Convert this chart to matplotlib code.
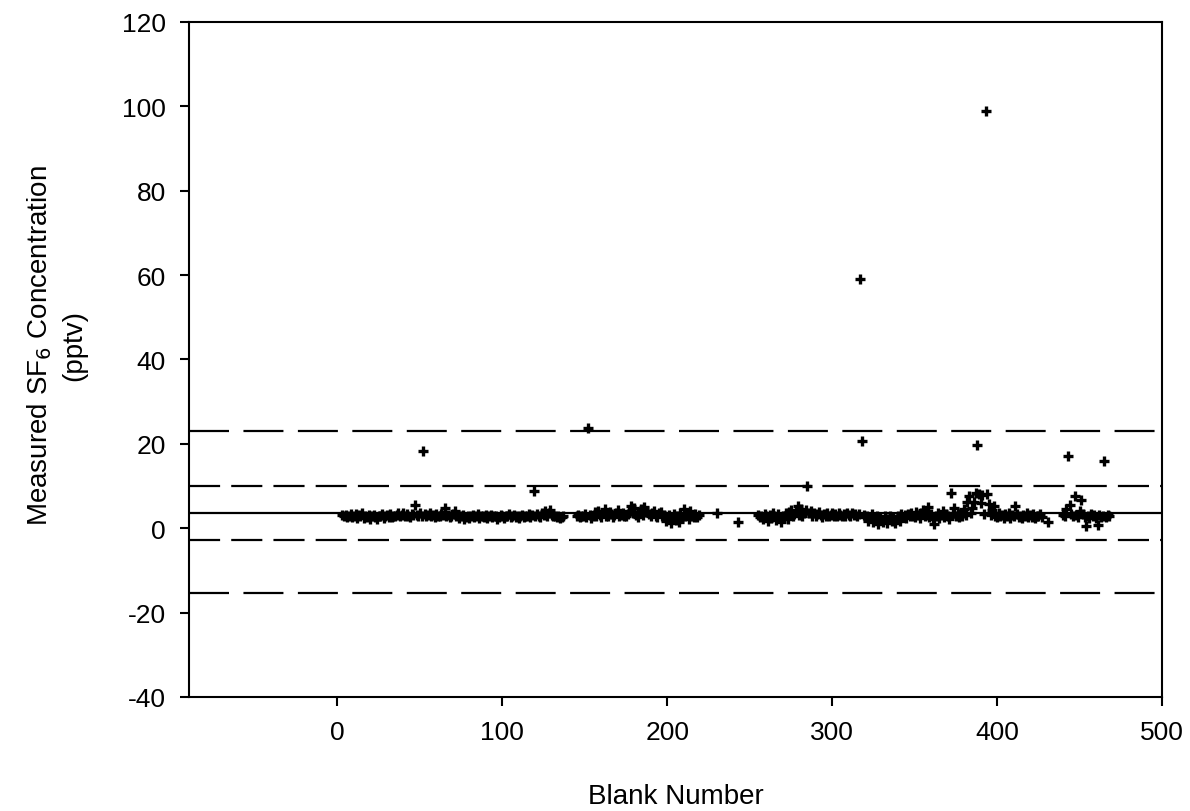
import numpy as np
import matplotlib
matplotlib.use("Agg")
import matplotlib.pyplot as plt

plt.rcParams['font.family'] = ['Liberation Sans', 'DejaVu Sans']
plt.rcParams['axes.unicode_minus'] = False

# blank numbers run consecutively inside each segment; start of each segment
seg_a_start = 3
seg_a = [3.1, 2.8, 3.2, 2.6, 3.0, 3.4, 2.7, 2.9, 3.3, 2.5, 3.1, 2.8, 3.6, 2.4, 3.0,
         2.7, 3.2, 2.2, 2.9, 3.1, 2.6, 2.3, 3.0, 2.8, 3.3, 2.5, 2.9, 3.1, 2.7, 3.4,
         2.6, 3.0, 2.8, 3.2, 3.6, 2.9, 3.1, 3.5, 2.8, 3.3, 3.0, 2.7, 3.4, 3.1, 5.5,
         3.2, 2.9, 3.6, 3.0, 18.3, 3.3, 2.8, 3.1, 3.5, 2.9, 3.2, 2.7, 3.4, 3.0, 2.8,
         3.3, 3.1, 4.7, 2.9, 3.2, 2.6, 3.0, 3.4, 4.1, 2.8, 3.1, 2.5, 2.9, 3.2, 2.3,
         2.7, 3.0, 2.4, 2.8, 3.1, 2.6, 2.9, 3.3, 2.5, 2.8, 3.0, 2.7, 3.2, 2.4, 2.9,
         3.1, 2.6, 2.8, 3.0, 2.3, 2.7, 3.2, 2.9, 2.5, 3.0, 2.8, 3.3, 2.6, 2.9, 3.1,
         2.7, 3.0, 2.5, 2.8, 3.2, 2.6, 3.0, 2.9, 3.4, 2.7, 3.1, 8.8, 2.8, 3.3, 3.0,
         2.6, 3.5, 3.1, 4.2, 2.9, 3.6, 4.4, 3.2, 2.8, 3.0, 2.6, 2.9, 2.4, 2.7, 3.0]

seg_b_start = 145
seg_b = [2.8, 3.1, 2.6, 3.0, 2.9, 3.4, 2.7, 23.7, 3.2, 2.5, 3.0, 3.8, 2.9, 4.2, 3.1,
         2.7, 3.5, 4.6, 3.0, 2.8, 3.9, 3.3, 2.6, 3.1, 3.7, 4.3, 2.9, 3.2, 3.6, 3.0,
         2.8, 3.4, 4.0, 5.2, 3.6, 4.8, 3.1, 2.7, 3.9, 4.5, 3.2, 5.0, 3.8, 4.2, 3.3,
         2.9, 3.6, 4.1, 3.0, 2.6, 3.5, 3.8, 2.8, 3.2, 1.6, 2.4, 3.1, 1.2, 2.7, 3.4,
         2.0, 3.0, 1.5, 3.6, 2.5, 4.6, 2.9, 3.3, 2.2, 4.1, 3.0, 2.7, 3.4, 2.6, 3.1]

seg_c_start = 255
seg_c = [3.2, 2.6, 3.0, 2.1, 3.4, 2.8, 1.6, 3.1, 2.4, 3.6, 2.9, 1.9, 3.3, 2.7, 1.5,
         3.0, 2.5, 3.5, 2.2, 3.8, 4.4, 2.9, 3.4, 3.9, 5.2, 3.1, 4.6, 2.8, 3.7, 4.3,
         10.0, 3.5, 4.1, 3.0, 3.6, 2.9, 3.3, 3.8, 3.1, 2.7, 3.4, 3.0, 3.6, 2.8, 3.2,
         3.5, 2.9, 3.3, 3.0, 3.7, 3.1, 2.8, 3.4, 3.0, 3.6, 3.2, 2.9, 3.5, 3.1, 3.3,
         3.0, 3.4, 59.0, 20.7, 3.2, 2.6, 3.0, 1.8, 2.5, 3.3, 1.4, 2.2, 2.9, 1.1, 2.6,
         2.0, 1.5, 2.8, 1.2, 2.3, 3.0, 1.7, 2.5, 1.3, 2.1, 2.9, 1.6, 3.4, 2.7, 3.1,
         2.5, 3.3, 2.8, 3.6, 3.0, 2.6, 3.9, 3.2, 2.4, 3.5, 4.3, 2.9, 3.2, 5.0, 2.7,
         3.4, 2.3, 1.0, 2.8, 3.6, 2.5, 3.1, 4.0, 2.6, 3.3, 2.9, 2.2, 8.3, 3.5, 4.7,
         2.8, 3.3, 2.6, 3.7, 3.0, 4.5, 3.2, 6.3, 7.6, 3.6, 4.8, 6.2, 8.4, 19.7, 8.0,
         5.9, 7.9, 3.4, 99.0, 8.2, 5.7, 3.1, 4.4, 5.3, 3.0, 2.6, 3.5, 2.8, 3.2, 2.4,
         3.3, 2.9, 3.6, 2.5, 3.1, 2.8, 5.3, 3.4, 2.7, 3.0, 2.4, 3.2, 2.9, 3.5, 2.6,
         3.1, 2.7, 3.3, 2.5, 3.0, 2.8, 3.4, 2.6]

seg_d_start = 440
seg_d = [3.2, 2.8, 4.6, 17.1, 5.6, 3.4, 2.9, 7.6, 3.1, 2.6, 4.1, 6.6, 3.3, 2.7, 0.6,
         3.0, 2.5, 3.4, 2.8, 3.1, 2.4, 0.8, 3.2, 2.7, 3.0, 16.0, 2.6, 3.1, 2.9]

# lone blanks between the runs
lone_x = [230, 243, 431]
lone_y = [3.6, 1.4, 1.4]

mean_level = 3.7
inner_limits = [10.0, -2.8]   # mean +/- 1 sd
outer_limits = [23.0, -15.4]  # mean +/- 3 sd

xs, ys = [], []
for start, vals in [(seg_a_start, seg_a), (seg_b_start, seg_b),
                    (seg_c_start, seg_c), (seg_d_start, seg_d)]:
    xs.extend(range(start, start + len(vals)))
    ys.extend(vals)
xs.extend(lone_x)
ys.extend(lone_y)

fig = plt.figure(figsize=(11.9, 8.12), dpi=100)
ax = fig.add_axes([0.1588, 0.1404, 0.8177, 0.8313])

ax.axhline(mean_level, color='black', lw=1.6)
for v in inner_limits:
    ax.axhline(v, color='black', lw=1.6, linestyle=(0, (14, 5)))
for v in outer_limits:
    ax.axhline(v, color='black', lw=1.6, linestyle=(0, (18, 6.5)))

ax.plot(xs, ys, linestyle='none', marker='+', color='black',
        markersize=6.5, markeredgewidth=2.4)

ax.set_xlim(-90, 500)
ax.set_ylim(-40, 120)
ax.set_xticks([0, 100, 200, 300, 400, 500])
ax.set_yticks(np.arange(-40, 121, 20))
ax.tick_params(direction='out', length=6.5, width=1.5, labelsize=19)
ax.tick_params(axis='y', pad=10)
ax.tick_params(axis='x', pad=10)
for s in ax.spines.values():
    s.set_linewidth(1.5)

fig.text(0.5677, 0.018, 'Blank Number', fontsize=20, ha='center', va='center')
fig.text(0.047, 0.574, 'Measured SF$_6$ Concentration\n(pptv)', fontsize=20,
         rotation=90, ha='center', va='center', multialignment='center',
         linespacing=1.35)

fig.savefig('out.png', dpi=100)
